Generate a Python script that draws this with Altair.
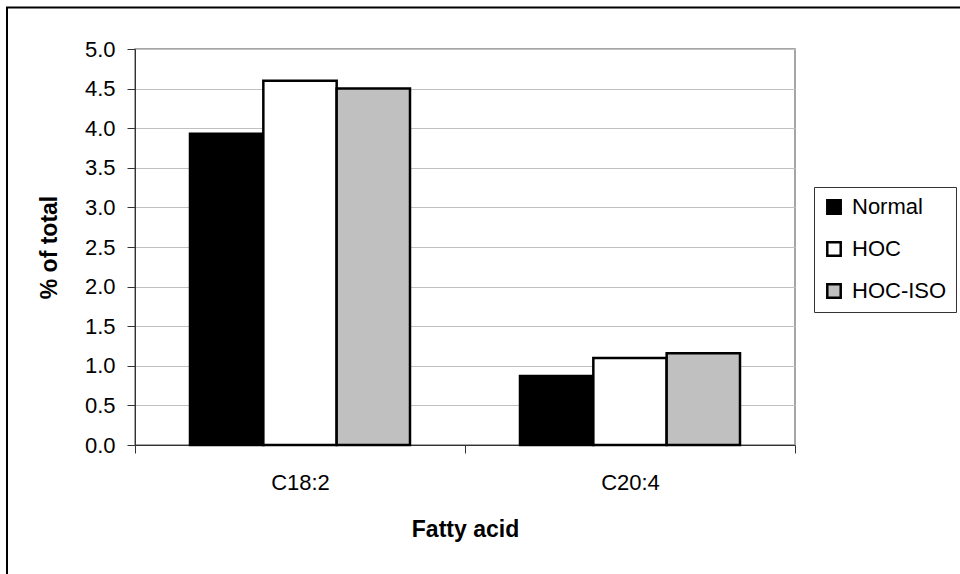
import altair as alt
import pandas as pd

# Fatty acid composition (% of total) by diet group
acids = ["C18:2", "C20:4"]
groups = ["Normal", "HOC", "HOC-ISO"]
normal = [3.93, 0.87]
hoc = [4.60, 1.10]
hoc_iso = [4.50, 1.16]
y_ticks = [0.0, 0.5, 1.0, 1.5, 2.0, 2.5, 3.0, 3.5, 4.0, 4.5, 5.0]
group_colors = ["#000000", "#ffffff", "#c0c0c0"]

rows = []
for series_name, series in zip(groups, [normal, hoc, hoc_iso]):
    for acid, v in zip(acids, series):
        rows.append({"acid": acid, "group": series_name, "value": v})
df = pd.DataFrame(rows)

FONT = "Liberation Sans"

bars = alt.Chart(df).mark_bar(
    stroke="black", strokeWidth=2.5, strokeJoin="miter"
).encode(
    x=alt.X(
        "acid:N",
        sort=acids,
        scale=alt.Scale(paddingInner=0, paddingOuter=0),
        axis=alt.Axis(
            title="Fatty acid",
            labelAngle=0,
            tickBand="extent",
            tickSize=8,
            labelPadding=19,
            labelFontSize=22,
            labelFont=FONT,
            labelColor="black",
            titleFont=FONT,
            titleFontSize=23,
            titleFontWeight="bold",
            titleColor="black",
            titleX=330,
            titleY=84,
            titleBaseline="middle",
            titleAlign="center",
            grid=False,
        ),
    ),
    xOffset=alt.XOffset(
        "group:N", sort=groups,
        scale=alt.Scale(paddingInner=0, paddingOuter=0.75),
    ),
    y=alt.Y(
        "value:Q",
        scale=alt.Scale(domain=[0, 5], nice=False, zero=True),
        axis=alt.Axis(
            title="% of total",
            values=y_ticks,
            format=".1f",
            tickSize=8,
            labelPadding=12,
            labelFontSize=22,
            labelFont=FONT,
            labelColor="black",
            titleFont=FONT,
            titleFontSize=23,
            titleFontWeight="bold",
            titleColor="black",
            titleX=-86,
            titleY=198,
            titleAngle=-90,
            titleAlign="center",
            titleBaseline="middle",
            grid=True,
            gridColor="#c0c0c0",
            gridWidth=1,
        ),
    ),
    color=alt.Color(
        "group:N",
        sort=groups,
        scale=alt.Scale(domain=groups, range=group_colors),
        legend=alt.Legend(
            title=None,
            orient="none",
            legendX=679,
            legendY=138,
            symbolType="square",
            symbolSize=180,
            symbolStrokeColor="black",
            symbolStrokeWidth=2.5,
            symbolOpacity=1,
            labelFont=FONT,
            labelFontSize=22,
            labelColor="black",
            labelOffset=7,
            rowPadding=18,
            padding=9,
            strokeColor="#333333",
            fillColor="white",
        ),
    ),
)

# outer chart frame
frame = alt.Chart(pd.DataFrame({"f": [0]})).mark_rect(
    filled=False, stroke="black", strokeWidth=2
).encode(
    x=alt.value(-128), x2=alt.value(1000),
    y=alt.value(-41.5), y2=alt.value(700),
)

chart = alt.layer(bars, frame).properties(
    width=660,
    height=396,
    autosize=alt.AutoSizeParams(type="none"),
    padding={"left": 135, "top": 49, "right": 165, "bottom": 129},
    background="white",
).configure_view(
    stroke="#888888", strokeWidth=1.5
).configure_axis(
    domainColor="#333333",
    tickColor="#333333",
    domainWidth=1,
    tickWidth=1,
)

chart.save("out.html", embed_options={"renderer": "svg", "actions": False})
